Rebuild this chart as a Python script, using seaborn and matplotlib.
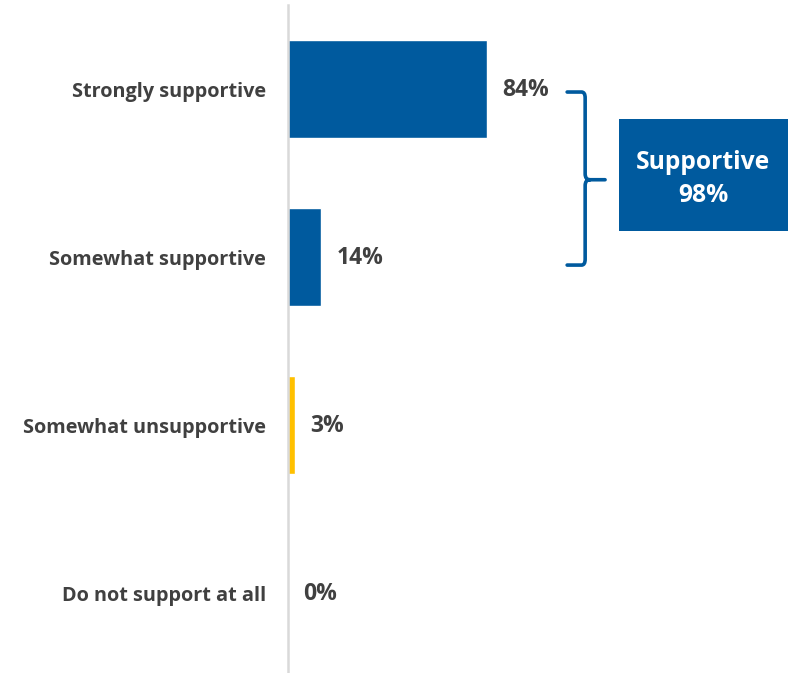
import matplotlib
matplotlib.use("Agg")
import matplotlib.pyplot as plt
from matplotlib.patches import Rectangle, PathPatch
from matplotlib.path import Path
import seaborn as sns
import pandas as pd

categories = ["Strongly supportive", "Somewhat supportive",
              "Somewhat unsupportive", "Do not support at all"]
values = [84, 14, 3, 0]
groups = ["support", "support", "oppose", "oppose"]
palette = {"support": "#005A9E", "oppose": "#FFC000"}

summary_label = "Supportive"
summary_value = values[0] + values[1]

TEXT = "#404040"
BLUE = palette["support"]

sns.set_theme(style="white")
plt.rcParams["font.family"] = ["Open Sans", "DejaVu Sans"]

df = pd.DataFrame({"category": categories, "value": values, "group": groups})

fig = plt.figure(figsize=(7.88, 6.73), dpi=100)
ax = fig.add_axes([288 / 788, 0.0, 1 - 288 / 788, 1 - 5 / 673])

sns.barplot(data=df, x="value", y="category", hue="group", palette=palette,
            orient="h", dodge=False, width=0.585, saturation=1, legend=False,
            ax=ax)

ax.set_xlim(0, 211)
ax.set_ylim(3.476, -0.5)
ax.set_xlabel("")
ax.set_ylabel("")
ax.set_xticks([])
for s in ["top", "right", "bottom"]:
    ax.spines[s].set_visible(False)
ax.spines["left"].set_color("#D9D9D9")
ax.spines["left"].set_linewidth(1.8)
ax.tick_params(axis="y", length=0, pad=16)
for lab in ax.get_yticklabels():
    lab.set_fontsize(14.3)
    lab.set_fontweight("bold")
    lab.set_color(TEXT)

# value labels at the end of each bar
for i, v in enumerate(values):
    ax.annotate(f"{v}%", xy=(v, i), xytext=(11, -1), textcoords="offset points",
                ha="left", va="center", fontsize=16.5, fontweight="bold",
                color=TEXT)

# brace grouping the two supportive answers
x0, xv, xt = 117.8, 125.4, 133.8
y0, ym, y1 = 0.018, 0.54, 1.048
r = 0.035
verts = [
    (x0, y0), (xv - 1.5, y0), (xv, y0), (xv, y0 + r),
    (xv, ym - r), (xv, ym), (xv + 2, ym), (xt, ym),
    (xv + 2, ym), (xv, ym), (xv, ym + r),
    (xv, y1 - r), (xv, y1), (xv - 1.5, y1), (x0, y1),
]
codes = [Path.MOVETO, Path.LINETO, Path.CURVE3, Path.CURVE3,
         Path.LINETO, Path.CURVE3, Path.CURVE3, Path.LINETO,
         Path.MOVETO, Path.CURVE3, Path.CURVE3,
         Path.LINETO, Path.CURVE3, Path.CURVE3, Path.LINETO]
ax.add_patch(PathPatch(Path(verts, codes), fill=False, edgecolor=BLUE,
                       linewidth=2.6, capstyle="round", joinstyle="round",
                       clip_on=False))

# summary box
bx0, bx1 = 139.7, 210.8
by0, by1 = 0.179, 0.845
ax.add_patch(Rectangle((bx0, by0), bx1 - bx0, by1 - by0, facecolor=BLUE,
                       edgecolor="none", clip_on=False))
ax.annotate(f"{summary_label}\n{summary_value}%",
            xy=((bx0 + bx1) / 2, (by0 + by1) / 2), xytext=(0, -3),
            textcoords="offset points", ha="center", va="center",
            color="white", fontsize=17.7, fontweight="bold", linespacing=1.45)

fig.savefig("out.png", dpi=100, facecolor="white")
